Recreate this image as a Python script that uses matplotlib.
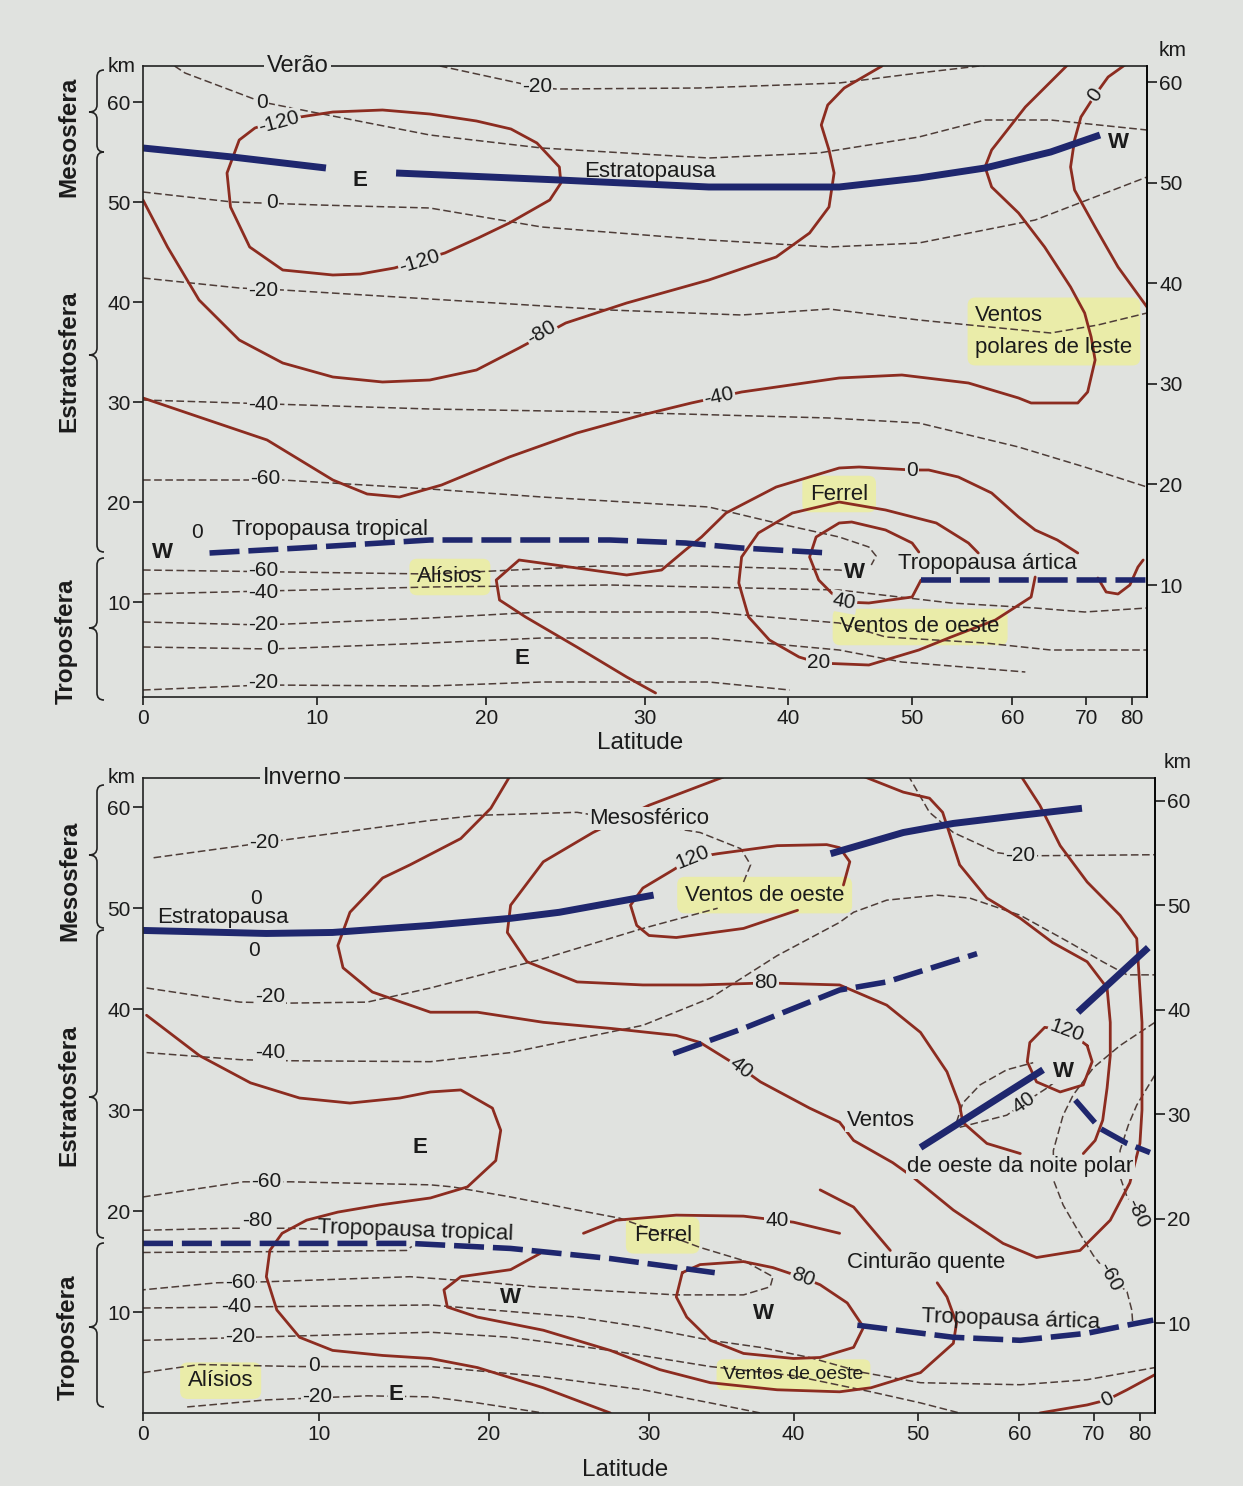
import numpy as np
import matplotlib
matplotlib.use("Agg")
import matplotlib.pyplot as plt
from matplotlib.path import Path
from matplotlib.patches import PathPatch
from matplotlib.transforms import Affine2D
from matplotlib.ticker import NullLocator

plt.rcParams['font.family'] = ['Liberation Sans', 'DejaVu Sans']

# ---------------- data: (latitude in degrees, altitude in km) ----------------
lat_ticks = [0, 10, 20, 30, 40, 50, 60, 70, 80]
km_ticks = [10, 20, 30, 40, 50, 60]

# Verão - isotermas (tracejadas)
ve_iso_m20a = [(17.2, 63.6), (23.1, 61.5), (24.3, 61.3), (33.6, 61.4), (43.9, 61.9), (50.6, 62.9), (59.2, 63.9)]
ve_iso_0a = [(1.8, 63.6), (2.4, 62.9), (6.8, 60.0), (9.7, 59.0), (16.6, 56.7), (23.4, 55.4), (34.3, 54.4),
             (42.3, 54.9), (50.6, 56.5), (57.0, 58.2), (64.7, 58.2), (90, 57.2)]
ve_iso_0b = [(0, 51.0), (5.1, 50.0), (10.1, 49.7), (16.6, 49.4), (23.4, 47.5), (34.3, 46.2), (43.1, 45.5),
             (50.6, 45.9), (62.7, 48.2), (90, 52.5)]
ve_iso_m20b = [(0, 42.4), (5.5, 41.4), (8.0, 41.2), (16.6, 40.3), (27.7, 39.2), (36.6, 38.7), (43.1, 39.3),
               (50.6, 38.2), (64.7, 36.9), (72.0, 37.7), (90, 38.9)]
ve_iso_m40a = [(0, 30.2), (5.5, 29.9), (16.6, 29.3), (27.7, 29.0), (43.1, 28.4), (50.6, 27.9), (60.7, 25.5),
               (69.7, 23.5), (90, 21.5)]
ve_iso_m60a = [(0, 22.2), (8.0, 22.2), (16.6, 21.3), (23.4, 20.5), (34.3, 19.5), (39.1, 17.9), (43.9, 16.5),
               (46.3, 15.5), (46.9, 14.6), (46.5, 13.7)]
ve_iso_m60b = [(0, 13.2), (16.6, 12.8), (27.0, 13.6), (33.6, 13.6), (43.9, 13.2), (45.1, 13.0)]
ve_iso_m40b = [(0, 10.8), (16.6, 11.5), (27.7, 11.7), (43.9, 11.2), (53.6, 9.9), (62.7, 9.4), (69.7, 9.0), (90, 9.4)]
ve_iso_m20c = [(0, 8.0), (6.9, 7.7), (16.6, 8.4), (23.4, 9.0), (34.3, 9.0), (43.9, 7.9), (47.7, 6.5), (57.0, 5.9),
               (64.7, 5.2), (90, 5.2)]
ve_iso_0c = [(0, 5.5), (7.4, 5.3), (16.6, 5.9), (23.4, 6.4), (34.3, 6.4), (43.9, 5.2), (49.1, 4.0), (61.5, 3.0)]
ve_iso_m20d = [(0, 1.2), (6.9, 1.7), (16.6, 1.6), (23.4, 2.0), (34.3, 2.0), (40.1, 1.2)]

# Verão - ventos zonais (linhas cheias)
ve_u_m120 = [(9.0, 58.5), (10.9, 59.0), (13.8, 59.2), (16.6, 58.8), (19.4, 58.1), (21.5, 57.3), (23.1, 55.9),
             (24.5, 53.5), (24.6, 51.9), (23.9, 50.2), (21.4, 47.9), (19.5, 46.4), (17.5, 44.9), (14.5, 43.4),
             (12.5, 42.8), (10.9, 42.7), (8.0, 43.2), (6.1, 45.5), (5.0, 49.5), (4.8, 52.9), (5.5, 56.2),
             (6.4, 57.4), (7.6, 58.1), (9.0, 58.5)]
ve_u_m80 = [(0, 50.2), (1.4, 45.5), (3.2, 40.2), (5.5, 36.2), (8.0, 33.9), (10.9, 32.5), (13.8, 32.0), (16.6, 32.2),
            (19.4, 33.2), (22.0, 35.4), (24.9, 37.9), (28.8, 39.9), (34.3, 42.2), (39.1, 44.5), (41.6, 46.9),
            (43.1, 49.5), (43.5, 52.9), (43.1, 55.2), (42.5, 57.7), (43.0, 59.7), (44.3, 61.4), (47.4, 63.6)]
ve_u_m40 = [(0, 30.4), (3.2, 28.5), (7.1, 26.2), (10.9, 22.2), (12.9, 20.8), (14.8, 20.5), (17.3, 21.7),
            (21.4, 24.5), (25.6, 26.9), (29.8, 28.7), (33.1, 29.9), (36.6, 31.0), (43.9, 32.4), (49.1, 32.7),
            (55.3, 31.9), (60.7, 30.4), (62.2, 29.9), (68.6, 29.9), (70.2, 31.0), (71.5, 34.2), (70.8, 36.5),
            (69.7, 38.9), (67.5, 41.5), (63.9, 45.5), (60.7, 48.9), (57.7, 51.5), (57.0, 53.5), (57.7, 55.2),
            (61.5, 59.5), (68.1, 64.4)]
ve_u_0_polar = [(81.0, 64.4), (74.0, 62.5), (71.5, 60.7), (69.1, 58.5), (68.1, 56.2), (67.5, 53.5), (68.1, 51.2),
                (71.5, 47.5), (76.2, 43.5), (90, 39.5)]
ve_u_0_trop = [(30.7, 0.9), (28.8, 2.5), (25.6, 5.5), (22.4, 8.5), (20.8, 10.2), (20.6, 12.2), (22.0, 14.2),
               (25.6, 13.4), (28.8, 12.7), (31.1, 13.2), (32.7, 15.2), (33.8, 16.5), (35.5, 18.9), (39.1, 21.5),
               (43.9, 23.4), (45.5, 23.5), (50.0, 23.2), (51.5, 23.2), (54.3, 22.5), (57.7, 20.9), (60.7, 18.5),
               (62.7, 17.2), (65.6, 16.2), (68.6, 14.9)]
ve_u_20 = [(56.3, 14.9), (55.3, 15.9), (52.2, 17.9), (47.7, 19.2), (43.9, 20.0), (40.3, 18.9), (37.8, 16.9),
           (36.6, 14.5), (36.4, 11.9), (37.1, 8.5), (38.6, 6.2), (40.8, 4.5), (42.3, 3.9), (46.3, 3.7), (50.6, 5.2),
           (53.6, 6.5), (58.1, 8.2), (62.2, 10.5), (62.7, 12.5)]
ve_u_40 = [(50.6, 15.0), (50.0, 15.9), (47.7, 17.2), (44.9, 18.0), (43.9, 17.9), (42.1, 16.5), (41.6, 14.5),
           (42.3, 12.2), (43.3, 10.9), (44.3, 10.0), (46.3, 9.9), (50.0, 10.5), (50.8, 12.2)]
ve_u_polar = [(72.0, 12.4), (73.6, 11.0), (76.2, 10.8), (79.4, 11.7), (82.3, 13.5), (85.0, 14.2)]

# Verão - estratopausa e tropopausas
ve_stratopause_a = [(0, 55.4), (5.1, 54.5), (10.5, 53.4)]
ve_stratopause_b = [(14.6, 52.9), (24.5, 52.2), (34.3, 51.5), (43.9, 51.5), (50.6, 52.4), (57.0, 53.4),
                    (64.7, 55.0), (72.4, 56.7)]
ve_trop_tropical = [(3.8, 14.9), (9.0, 15.4), (16.6, 16.2), (27.7, 16.2), (32.7, 15.9), (36.6, 15.4), (43.1, 14.9)]
ve_trop_artica = [(50.8, 12.2), (90, 12.2)]

# Inverno - isotermas (tracejadas)
in_iso_m20a = [(0.6, 55.0), (6.9, 56.5), (16.5, 58.7), (19.3, 59.2), (25.4, 59.5), (33.4, 57.5), (36.2, 55.9),
               (36.9, 54.3), (36.4, 52.6)]
in_iso_m20b = [(0.2, 42.1), (5.5, 40.7), (8.2, 40.6), (12.8, 40.7), (16.5, 42.1), (23.3, 45.0), (29.6, 48.0),
               (34.6, 50.0)]
in_iso_m40a = [(0.2, 35.7), (5.5, 35.0), (7.8, 34.9), (16.5, 34.8), (21.3, 35.7), (29.6, 38.4), (34.1, 41.1),
               (38.8, 45.3), (43.5, 48.6), (44.6, 49.6), (47.3, 50.8), (51.7, 51.3), (54.8, 51.0), (60.1, 49.3),
               (66.3, 46.6), (71.5, 44.7), (76.5, 43.4), (90, 43.4)]
in_iso_m20c = [(49.1, 63.2), (51.0, 59.5), (53.2, 57.5), (57.6, 55.5), (60.1, 55.2), (62.0, 55.2), (90, 55.3)]
in_iso_m60a = [(0, 21.4), (5.7, 22.9), (8.4, 22.9), (16.5, 22.6), (17.8, 22.4), (21.3, 21.4), (25.4, 20.1),
               (28.1, 19.3), (30.7, 17.9), (33.4, 16.4), (36.4, 15.1), (38.5, 13.5), (38.3, 12.5), (36.4, 11.7),
               (31.8, 11.7), (22.7, 12.5), (20.2, 12.9), (15.3, 13.5), (7.0, 13.0), (4.2, 12.9), (0, 12.2)]
in_iso_m80a = [(0, 18.1), (4.9, 18.3), (8.4, 18.3), (10.0, 18.2)]
in_iso_m80b = [(0, 15.9), (8.9, 16.0), (15.1, 16.1), (15.4, 16.5)]
in_iso_m40b = [(0, 10.4), (16.5, 10.7), (20.2, 10.2), (25.4, 9.5), (29.6, 8.5), (34.1, 7.2), (37.6, 6.5),
               (41.2, 5.5), (45.4, 4.0), (50.2, 3.0), (60.1, 2.8), (68.9, 3.3), (90, 4.5)]
in_iso_m20d = [(0, 7.2), (16.5, 8.0), (21.3, 7.5), (27.5, 6.2), (34.1, 4.6), (40.0, 3.7), (46.0, 2.1),
               (50.2, 1.0), (53.8, 0)]
in_iso_0 = [(0, 4.0), (3.2, 4.8), (8.9, 4.6), (16.5, 4.6), (23.3, 3.6), (29.6, 2.3), (34.1, 1.0), (37.6, 0)]
in_iso_m20e = [(2.5, 0.6), (7.0, 1.3), (12.8, 1.7), (16.5, 1.6), (19.3, 1.0), (23.3, 0)]
in_iso_m60b = [(90, 38.7), (74.9, 36.4), (69.9, 34.2), (66.8, 31.5), (65.4, 29.5), (64.1, 26.0), (64.1, 23.1),
               (65.4, 20.6), (67.3, 18.3), (69.9, 15.6), (72.9, 13.5), (76.5, 12.0), (77.7, 10.2), (78.0, 8.7)]
in_iso_m80c = [(90, 33.5), (79.1, 30.5), (76.8, 28.5), (74.9, 26.0), (74.9, 23.4), (76.5, 21.4), (79.4, 19.8),
               (81.9, 18.6)]
in_iso_m40c = [(53.5, 28.8), (54.1, 30.7), (55.8, 32.5), (58.6, 34.0), (61.6, 34.7)]
in_iso_m40d = [(53.8, 28.3), (58.6, 29.5), (60.5, 30.7), (63.3, 32.2), (65.0, 33.2)]

# Inverno - ventos zonais (linhas cheias)
in_u_0 = [(0.2, 39.4), (3.2, 35.4), (6.1, 32.7), (8.9, 31.2), (11.8, 30.7), (14.7, 31.2), (16.5, 31.8),
          (18.3, 32.0), (20.2, 30.2), (20.7, 28.0), (20.4, 25.0), (18.7, 22.4), (16.5, 21.3), (13.5, 20.6),
          (11.1, 19.9), (9.3, 19.1), (7.9, 17.8), (7.2, 16.1), (7.0, 13.5), (7.6, 10.2), (8.9, 7.5), (10.8, 6.2),
          (13.7, 5.7), (16.5, 5.4), (19.3, 4.5), (23.3, 2.5), (27.5, 0)]
in_u_40a = [(21.3, 63.2), (20.1, 59.9), (18.3, 56.9), (15.3, 54.3), (13.7, 53.0), (11.8, 49.6), (11.1, 46.3),
            (11.4, 44.1), (13.1, 41.7), (16.5, 39.7), (19.3, 39.7), (23.3, 38.7), (27.5, 38.1), (31.8, 37.4),
            (33.4, 36.7), (36.2, 34.2), (37.6, 32.8), (41.2, 30.2), (43.5, 28.8), (44.6, 27.0), (47.8, 24.8),
            (49.5, 23.4), (53.2, 20.1), (58.2, 16.8), (62.0, 15.4), (67.8, 16.1), (72.9, 19.1), (77.2, 22.8),
            (80.1, 26.7), (80.8, 30.0), (80.8, 38.7), (79.1, 47.0), (74.9, 49.3), (68.9, 52.6), (65.0, 56.2),
            (62.4, 60.2), (60.1, 63.2)]
in_u_80b = [(45.1, 63.2), (48.7, 61.5), (51.0, 60.9), (52.2, 59.5), (52.9, 57.2), (53.8, 54.3), (56.5, 51.0),
            (60.1, 49.0), (64.0, 46.6), (68.9, 44.7), (72.3, 42.1), (72.9, 38.7), (72.9, 35.4), (72.3, 32.2),
            (71.5, 29.0), (70.2, 27.0), (68.3, 25.7)]
in_u_80a = [(35.0, 63.0), (30.0, 60.2), (26.4, 57.5), (23.3, 54.6), (21.3, 50.3), (21.1, 47.6), (22.3, 44.7),
            (25.4, 42.7), (29.6, 42.4), (33.4, 42.4), (38.0, 42.6), (43.5, 42.4), (47.3, 40.4), (50.2, 37.7),
            (52.6, 33.8), (53.8, 30.5), (54.1, 28.8), (56.5, 26.7), (60.1, 25.7)]
in_u_120a = [(40.3, 49.8), (36.4, 48.0), (31.8, 47.1), (30.0, 47.3), (29.2, 48.3), (28.8, 50.3), (29.6, 52.0),
             (31.6, 53.8), (32.9, 55.0), (34.6, 55.4), (38.8, 56.2), (42.5, 56.3), (43.5, 56.0), (44.3, 54.6),
             (43.8, 52.3)]
in_u_120b = [(68.9, 36.4), (69.7, 34.8), (68.3, 32.5), (65.0, 31.8), (62.0, 32.8), (60.9, 34.8), (61.2, 36.7),
             (63.0, 38.2), (65.9, 37.9), (68.9, 36.4)]
in_u_40b = [(25.8, 17.8), (27.9, 19.1), (31.8, 19.6), (36.4, 19.5), (38.8, 19.1), (40.0, 18.9), (43.5, 17.8)]
in_u_cint = [(42.0, 22.1), (44.6, 20.4), (47.6, 16.1)]
in_u_20 = [(23.1, 15.8), (21.3, 14.2), (18.3, 13.5), (17.3, 12.2), (17.5, 10.5), (19.3, 9.5), (23.3, 8.2),
           (27.5, 6.2), (30.7, 4.3), (34.1, 3.0), (38.8, 2.3), (43.5, 2.1), (46.0, 2.5), (50.2, 4.0), (53.2, 6.9),
           (53.5, 8.9), (52.6, 11.5), (51.7, 12.9)]
in_u_80c = [(32.2, 13.9), (33.4, 14.7), (36.4, 15.0), (38.5, 14.4), (40.7, 13.4), (42.0, 12.7), (44.1, 10.9),
            (45.4, 8.5), (44.6, 6.5), (42.0, 5.5), (40.0, 5.4), (36.4, 5.9), (34.1, 7.2), (32.5, 9.5), (31.8, 11.5),
            (32.2, 13.9)]
in_u_0b = [(62.4, 0), (68.9, 0.8), (72.3, 1.3), (76.5, 2.3), (90, 3.8)]

# Inverno - estratopausa, tropopausas e eixos dos jatos
in_stratopause_a = [(0, 47.8), (7.0, 47.5), (10.8, 47.6), (16.5, 48.3), (21.3, 49.0), (24.3, 49.6), (30.3, 51.3)]
in_stratopause_b = [(42.8, 55.4), (48.7, 57.5), (53.2, 58.4), (60.1, 59.2), (68.1, 59.9)]
in_jet_dash_a = [(31.6, 35.6), (36.4, 38.1), (43.5, 41.9), (47.3, 42.7), (55.5, 45.5)]
in_jet_solid_a = [(67.5, 39.7), (83.4, 46.1)]
in_jet_solid_b = [(50.2, 26.3), (62.8, 34.0)]
in_jet_dash_b = [(67.1, 31.0), (71.0, 28.2), (76.5, 26.7), (84.3, 25.8)]
in_trop_tropical = [(0, 16.8), (15.3, 16.8), (21.3, 16.3), (27.5, 15.3), (34.4, 13.9)]
in_trop_artica = [(44.9, 8.7), (53.2, 7.5), (60.1, 7.2), (68.9, 7.9), (76.5, 8.7), (86.6, 9.2)]

# ---------------- styles ----------------
BG = '#e0e2df'
RED = '#8c2c20'
GREY = '#4e3d38'
BLUE = '#1f276e'
HL = '#eceea0'
INK = '#1b1b1b'


def sinlat(x):
    return np.sin(np.radians(np.clip(x, 0, 90)))


def arcsinlat(y):
    return np.degrees(np.arcsin(np.clip(y, 0, 1)))


def draw(ax, pts, kind):
    lat, km = zip(*pts)
    if kind == 'iso':
        ax.plot(lat, km, color=GREY, lw=1.1, ls=(0, (5, 2.3)), zorder=2)
    elif kind == 'wind':
        ax.plot(lat, km, color=RED, lw=2.0, zorder=2.5, solid_joinstyle='round', solid_capstyle='round')
    elif kind == 'pause':
        ax.plot(lat, km, color=BLUE, lw=5, zorder=3, solid_capstyle='butt')
    else:
        ax.plot(lat, km, color=BLUE, lw=4, ls=(0, (5.4, 1.6)), zorder=3, dash_capstyle='butt')


def lab(ax, s, lat, km, rot=0, fs=15, mask=True, bold=False, ha='center'):
    bb = dict(boxstyle='square,pad=0.06', fc=BG, ec='none') if mask else None
    ax.text(lat, km, s, fontsize=fs, rotation=rot, ha=ha, va='center', color=INK, bbox=bb,
            fontweight='bold' if bold else 'normal', zorder=6, rotation_mode='anchor')


def hl(ax, s, lat, km, fs=16, ha='center', **kw):
    ax.text(lat, km, s, fontsize=fs, ha=ha, va='center', color='none', zorder=1.5,
            bbox=dict(boxstyle='round,pad=0.35', fc=HL, ec='none', alpha=0.85), **kw)
    ax.text(lat, km, s, fontsize=fs, ha=ha, va='center', color=INK, zorder=6, **kw)


fig = plt.figure(figsize=(12.43, 14.86), dpi=100, facecolor=BG)
ax1 = fig.add_axes([143 / 1243, 1 - 697 / 1486, 1004 / 1243, 631 / 1486])
ax2 = fig.add_axes([143 / 1243, 1 - 1413 / 1486, 1012 / 1243, 635 / 1486])

twins = []
for ax, ylim, rlim in ((ax1, (0.5, 63.6), (-1.13, 61.6)), (ax2, (0, 62.9), (1.4, 62.2))):
    ax.set_facecolor(BG)
    ax.set_xscale('function', functions=(sinlat, arcsinlat))
    ax.set_xlim(0, 90)
    ax.set_ylim(*ylim)
    ax.set_xticks(lat_ticks)
    ax.set_xticklabels([str(v) for v in lat_ticks])
    ax.xaxis.set_minor_locator(NullLocator())
    ax.set_yticks(km_ticks)
    ax.tick_params(axis='x', length=6, width=1.2, pad=3, labelsize=15, colors=INK)
    ax.tick_params(axis='y', length=7, width=1.2, pad=2, labelsize=15, colors=INK)
    for sp in ax.spines.values():
        sp.set_linewidth(1.2)
        sp.set_color('#222222')
        sp.set_zorder(7)
    r = ax.twinx()
    r.set_ylim(*rlim)
    r.set_yticks(km_ticks)
    r.tick_params(axis='y', length=7, width=1.2, pad=2, labelsize=15, colors=INK)
    for side in ('top', 'left', 'bottom'):
        r.spines[side].set_visible(False)
    r.spines['right'].set_linewidth(1.2)
    twins.append(r)

# ---------------- Verão ----------------
for pts in (ve_iso_m20a, ve_iso_0a, ve_iso_0b, ve_iso_m20b, ve_iso_m40a, ve_iso_m60a, ve_iso_m60b,
            ve_iso_m40b, ve_iso_m20c, ve_iso_0c, ve_iso_m20d):
    draw(ax1, pts, 'iso')
for pts in (ve_u_m120, ve_u_m80, ve_u_m40, ve_u_0_polar, ve_u_0_trop, ve_u_20, ve_u_40, ve_u_polar):
    draw(ax1, pts, 'wind')
draw(ax1, ve_stratopause_a, 'pause')
draw(ax1, ve_stratopause_b, 'pause')
draw(ax1, ve_trop_tropical, 'dash')
draw(ax1, ve_trop_artica, 'dash')

for s, x, y, rot in [("-20", 23.1, 61.5, 0), ("0", 6.8, 60.0, 0), ("-120", 7.8, 58.0, 15),
                     ("-120", 16.0, 44.0, 17), ("0", 7.4, 49.9, 0), ("-20", 6.9, 41.2, 0),
                     ("-80", 23.4, 36.9, 30), ("0", 71.5, 60.7, 55), ("-40", 35.0, 30.6, 12),
                     ("-40", 6.9, 29.8, 0), ("-60", 7.0, 22.3, 0), ("0", 50.0, 23.2, 0),
                     ("-60", 6.9, 13.2, 0), ("-40", 6.9, 11.0, 0), ("-20", 6.9, 7.7, 0), ("0", 7.4, 5.3, 0),
                     ("-20", 6.9, 1.9, 0), ("40", 44.3, 10.0, -10), ("20", 42.3, 3.9, 0)]:
    lab(ax1, s, x, y, rot)
for s, x, y in [("E", 12.5, 52.2), ("W", 76.2, 55.9), ("W", 1.1, 15.0), ("W", 45.1, 12.9), ("E", 22.2, 4.4)]:
    lab(ax1, s, x, y, fs=16, bold=True)
lab(ax1, "0", 3.1, 17.0, mask=False)
lab(ax1, "Estratopausa", 30.3, 53.1, fs=16, mask=False)
lab(ax1, "Tropopausa tropical", 5.1, 17.2, fs=16, mask=False, ha='left')
lab(ax1, "Tropopausa ártica", 48.8, 13.9, fs=16, mask=False, ha='left')
hl(ax1, "Ventos\npolares de leste", 56.0, 37.05, ha='left', linespacing=1.65)
hl(ax1, "Ferrel", 43.9, 20.8)
hl(ax1, "Alísios", 17.8, 12.5)
hl(ax1, "Ventos de oeste", 44.0, 7.5, ha='left')

# ---------------- Inverno ----------------
for pts in (in_iso_m20a, in_iso_m20b, in_iso_m40a, in_iso_m20c, in_iso_m60a, in_iso_m80a, in_iso_m80b,
            in_iso_m40b, in_iso_m20d, in_iso_0, in_iso_m20e, in_iso_m60b, in_iso_m80c, in_iso_m40c, in_iso_m40d):
    draw(ax2, pts, 'iso')
for pts in (in_u_0, in_u_40a, in_u_80b, in_u_80a, in_u_120a, in_u_120b, in_u_40b, in_u_cint, in_u_20,
            in_u_80c, in_u_0b):
    draw(ax2, pts, 'wind')
draw(ax2, in_stratopause_a, 'pause')
draw(ax2, in_stratopause_b, 'pause')
draw(ax2, in_jet_solid_a, 'pause')
draw(ax2, in_jet_solid_b, 'pause')
draw(ax2, in_jet_dash_a, 'dash')
draw(ax2, in_jet_dash_b, 'dash')
draw(ax2, in_trop_tropical, 'dash')
draw(ax2, in_trop_artica, 'dash')

for s, x, y, rot in [("-20", 6.9, 56.5, 0), ("120", 32.9, 55.0, 22), ("-20", 60.1, 55.2, 0),
                     ("-20", 7.2, 41.3, 0), ("80", 38.0, 42.6, 0), ("40", 36.2, 34.2, -38),
                     ("-40", 7.2, 35.7, 0), ("120", 65.9, 37.9, -20), ("40", 60.5, 30.7, 35),
                     ("-80", 79.4, 19.8, -65), ("-60", 7.0, 22.9, 0), ("-80", 6.5, 19.1, 0),
                     ("40", 38.8, 19.1, 0), ("80", 40.7, 13.4, -22), ("-60", 72.9, 13.5, -62),
                     ("-60", 5.5, 12.9, 0), ("-40", 5.3, 10.5, 0), ("-20", 5.5, 7.6, 0), ("0", 9.7, 4.7, 0),
                     ("-20", 9.9, 1.6, 0), ("0", 72.3, 1.3, 25)]:
    lab(ax2, s, x, y, rot)
lab(ax2, "0", 6.4, 51.0, mask=False)
lab(ax2, "0", 6.3, 45.8, mask=False)
for s, x, y in [("E", 15.9, 26.3), ("W", 65.4, 33.8), ("W", 21.3, 11.4), ("W", 37.8, 9.9), ("E", 14.5, 1.8)]:
    lab(ax2, s, x, y, fs=16, bold=True)
lab(ax2, "Mesosférico", 30.0, 58.9, fs=16)
lab(ax2, "Estratopausa", 0.8, 49.1, fs=16, mask=False, ha='left')
lab(ax2, "Ventos", 46.8, 29.0, fs=16)
lab(ax2, "de oeste da noite polar", 60.1, 24.4, fs=16)
lab(ax2, "Tropopausa tropical", 9.9, 18.4, rot=-2, fs=16, mask=False, ha='left')
lab(ax2, "Cinturão quente", 50.7, 14.9, fs=16, mask=False)
lab(ax2, "Tropopausa ártica", 59.0, 9.2, rot=-2, fs=16, mask=False)
hl(ax2, "Ventos de oeste", 37.9, 51.3)
hl(ax2, "Ferrel", 30.9, 17.6)
hl(ax2, "Alísios", 4.4, 3.2)
hl(ax2, "Ventos de oeste", 40.0, 3.8, fs=14)

# season titles sitting on the top frame
for r, x, s in ((twins[0], 0.154, "Verão"), (twins[1], 0.157, "Inverno")):
    r.text(x, 1.0, s, transform=r.transAxes, ha='center', va='center', fontsize=17, color=INK,
           bbox=dict(boxstyle='square,pad=0.12', fc=BG, ec='none'), zorder=10)

# ---------------- figure annotations (pixel layout) ----------------
px2fig = Affine2D().scale(1 / 1243, -1 / 1486).translate(0, 1) + fig.transFigure


def brace(y0, ym, y1, xt=89, xe=104):
    xm = (xt + xe) / 2 + 0.5
    rr = 7
    verts = [(xe, y0), (xm, y0), (xm, y0 + rr), (xm, ym - rr), (xm, ym), (xt, ym), (xm, ym), (xm, ym + rr),
             (xm, y1 - rr), (xm, y1), (xe, y1)]
    codes = [Path.MOVETO, Path.CURVE3, Path.CURVE3, Path.LINETO, Path.CURVE3, Path.CURVE3, Path.CURVE3,
             Path.CURVE3, Path.LINETO, Path.CURVE3, Path.CURVE3]
    fig.add_artist(PathPatch(Path(verts, codes), transform=px2fig, fill=False, lw=1.2, ec='#222222'))


for y0, ym, y1 in ((70, 112, 152), (152, 355, 552), (558, 628, 700),
                   (785, 855, 928), (930, 1097, 1238), (1243, 1327, 1407)):
    brace(y0, ym, y1)

for s, x, y in (("Mesosfera", 69, 137), ("Estratosfera", 69, 361), ("Troposfera", 66, 641),
                ("Mesosfera", 70, 881), ("Estratosfera", 69, 1095), ("Troposfera", 68, 1337)):
    fig.text(x / 1243, 1 - y / 1486, s, rotation=90, ha='center', va='center', fontsize=17.5,
             fontweight='bold', color=INK)

for x, y in ((122, 67), (1173, 50), (122, 777), (1178, 763)):
    fig.text(x / 1243, 1 - y / 1486, "km", ha='center', va='center', fontsize=15, color=INK)
for x, y in ((640, 743), (625, 1470)):
    fig.text(x / 1243, 1 - y / 1486, "Latitude", ha='center', va='center', fontsize=17.5, color=INK)

fig.savefig('out.png', dpi=100, facecolor=BG)
